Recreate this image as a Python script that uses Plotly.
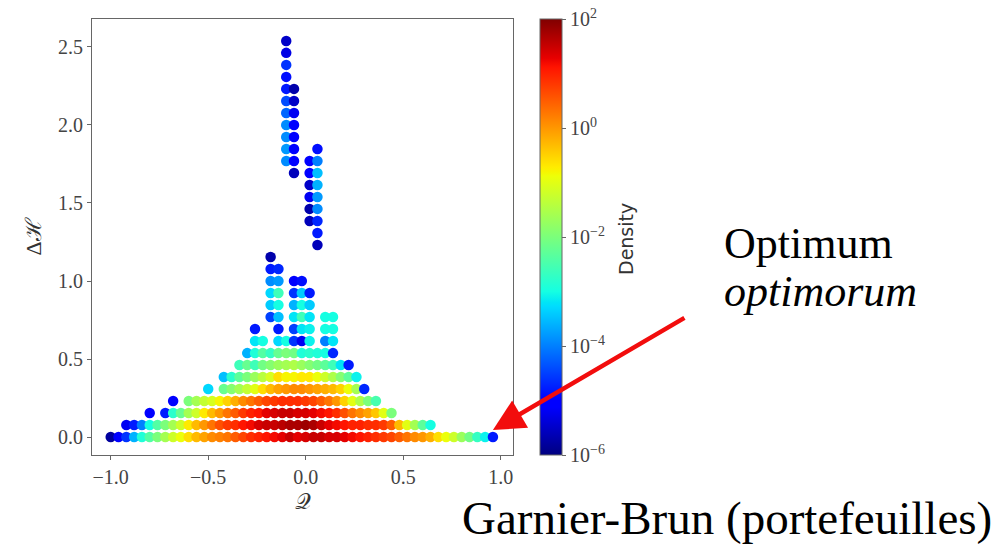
import plotly.graph_objects as go

# ---------------- data ----------------
# Delta-H level of each row of points
DH_LEVELS = [0.0, 0.077, 0.154, 0.231, 0.308, 0.385, 0.462, 0.538, 0.615, 0.692,
             0.769, 0.846, 0.923, 1.0, 1.077, 1.154, 1.231, 1.308, 1.385, 1.462,
             1.538, 1.615, 1.692, 1.769, 1.846, 1.923, 2.0, 2.077, 2.154, 2.231,
             2.308, 2.385, 2.462, 2.538]

# Q positions of the points in each row
ROW_Q = [
    [-1.0, -0.96, -0.92, -0.88, -0.84, -0.8, -0.76, -0.72, -0.68, -0.64, -0.6, -0.56, -0.52,
     -0.48, -0.44, -0.4, -0.36, -0.32, -0.28, -0.24, -0.2, -0.16, -0.12, -0.08, -0.04, 0.0,
     0.04, 0.08, 0.12, 0.16, 0.2, 0.24, 0.28, 0.32, 0.36, 0.4, 0.44, 0.48, 0.52, 0.56, 0.6,
     0.64, 0.68, 0.72, 0.76, 0.8, 0.84, 0.88, 0.92, 0.96],
    [-0.92, -0.88, -0.84, -0.8, -0.76, -0.72, -0.68, -0.64, -0.6, -0.56, -0.52, -0.48, -0.44,
     -0.4, -0.36, -0.32, -0.28, -0.24, -0.2, -0.16, -0.12, -0.08, -0.04, 0.0, 0.04, 0.08,
     0.12, 0.16, 0.2, 0.24, 0.28, 0.32, 0.36, 0.4, 0.44, 0.48, 0.52, 0.56, 0.6, 0.64],
    [-0.8, -0.72, -0.68, -0.64, -0.6, -0.56, -0.52, -0.48, -0.44, -0.4, -0.36, -0.32, -0.28,
     -0.24, -0.2, -0.16, -0.12, -0.08, -0.04, 0.0, 0.04, 0.08, 0.12, 0.16, 0.2, 0.24, 0.28,
     0.32, 0.36, 0.4, 0.44],
    [-0.68, -0.6, -0.56, -0.52, -0.48, -0.44, -0.4, -0.36, -0.32, -0.28, -0.24, -0.2, -0.16,
     -0.12, -0.08, -0.04, 0.0, 0.04, 0.08, 0.12, 0.16, 0.2, 0.24, 0.28, 0.32, 0.36],
    [-0.5, -0.42, -0.38, -0.34, -0.3, -0.26, -0.22, -0.18, -0.14, -0.1, -0.06, -0.02, 0.02,
     0.06, 0.1, 0.14, 0.18, 0.22, 0.26, 0.3],
    [-0.42, -0.38, -0.34, -0.3, -0.26, -0.22, -0.18, -0.14, -0.1, -0.06, -0.02, 0.02, 0.06,
     0.1, 0.14, 0.18, 0.22, 0.26],
    [-0.34, -0.3, -0.26, -0.22, -0.18, -0.14, -0.1, -0.06, -0.02, 0.02, 0.06, 0.1, 0.14,
     0.18, 0.22],
    [-0.3, -0.26, -0.22, -0.18, -0.14, -0.1, -0.06, -0.02, 0.02, 0.06, 0.1, 0.14],
    [-0.26, -0.22, -0.14, -0.1, -0.06, -0.02, 0.02, 0.1, 0.14],
    [-0.26, -0.14, -0.06, -0.02, 0.02, 0.1, 0.14],
    [-0.18, -0.14, -0.06, -0.02, 0.02, 0.1, 0.14],
    [-0.18, -0.14, -0.06, -0.02, 0.02],
    [-0.18, -0.14, -0.06, -0.02, 0.02],
    [-0.18, -0.14, -0.06, -0.02],
    [-0.18, -0.14],
    [-0.18],
    [0.06],
    [0.06],
    [0.02, 0.06],
    [0.02, 0.06],
    [0.02, 0.06],
    [0.02, 0.06],
    [-0.06, 0.02, 0.06],
    [-0.1, -0.06, 0.02, 0.06],
    [-0.1, -0.06, 0.06],
    [-0.1, -0.06],
    [-0.1, -0.06],
    [-0.1, -0.06],
    [-0.1, -0.06],
    [-0.1, -0.06],
    [-0.1],
    [-0.1],
    [-0.1],
    [-0.1],
]

# log10(density) of each point, same layout as ROW_Q
ROW_LOG_DENSITY = [
    [-5.8, -5.0, -4.6, -3.6, -2.9, -2.4, -2.0, -1.6, -1.2, -0.9, -0.6, -0.3, -0.1,
     0.1, 0.2, 0.3, 0.5, 0.7, 0.9, 1.0, 1.1, 1.2, 1.3, 1.5, 1.3, 1.4,
     1.5, 1.5, 1.4, 1.4, 1.3, 1.2, 1.1, 1.0, 0.9, 0.8, 0.7, 0.5, 0.3, 0.1, 0.0,
     -0.2, -0.6, -0.9, -1.2, -1.7, -2.1, -2.7, -3.1, -4.8],
    [-5.2, -4.8, -4.0, -3.0, -2.4, -2.0, -1.6, -1.2, -0.7, -0.3, 0.0, 0.3, 0.6,
     0.8, 0.9, 1.1, 1.2, 1.4, 1.5, 1.5, 1.6, 1.7, 1.7, 1.8, 1.7, 1.5,
     1.3, 1.2, 1.1, 1.0, 1.0, 0.9, 0.9, 0.8, 0.5, -0.3, -1.0, -1.6, -2.3, -3.0],
    [-5.0, -4.8, -2.8, -2.2, -1.6, -1.2, -0.7, -0.3, 0.0, 0.3, 0.5, 0.8, 1.0,
     1.1, 1.3, 1.4, 1.5, 1.5, 1.4, 1.4, 1.3, 1.2, 1.1, 0.9, 0.6, 0.3, 0.1,
     -0.1, -0.4, -1.0, -2.0],
    [-5.0, -2.0, -1.6, -1.3, -1.1, -0.8, -0.5, -0.2, 0.1, 0.3, 0.5, 0.7, 0.8,
     0.9, 0.9, 0.9, 0.8, 0.7, 0.5, 0.3, 0.0, -0.5, -1.0, -1.5, -2.0, -2.5],
    [-3.3, -2.2, -1.9, -1.6, -1.3, -1.0, -0.6, -0.3, -0.1, 0.0, 0.1, 0.1, 0.0,
     -0.1, -0.2, -0.3, -0.5, -0.9, -1.6, -4.7],
    [-3.5, -2.8, -2.3, -2.0, -1.7, -1.4, -1.1, -0.6, -0.8, -0.8, -0.7, -0.7, -0.9,
     -1.2, -1.5, -1.9, -2.3, -3.1],
    [-2.6, -2.2, -2.6, -2.1, -1.9, -1.7, -1.6, -1.5, -1.7, -1.9, -2.1, -2.3, -2.6,
     -3.2, -4.8],
    [-3.6, -2.9, -2.4, -2.7, -2.2, -2.0, -2.1, -2.9, -2.8, -2.9, -3.0, -4.7],
    [-3.2, -3.0, -3.3, -3.0, -4.6, -5.2, -3.1, -4.0, -3.2],
    [-4.8, -4.8, -4.5, -3.2, -3.1, -3.0, -3.0],
    [-4.5, -3.5, -3.2, -2.6, -3.2, -3.0, -3.0],
    [-3.4, -3.0, -3.6, -3.0, -3.4],
    [-3.3, -2.6, -4.6, -3.4, -4.8],
    [-3.9, -3.8, -5.0, -4.9],
    [-4.8, -4.7],
    [-5.7],
    [-5.6],
    [-4.8],
    [-5.6, -4.7],
    [-5.7, -3.9],
    [-5.2, -3.8],
    [-5.5, -3.6],
    [-5.6, -5.1, -3.5],
    [-3.9, -5.0, -5.0, -4.0],
    [-3.8, -5.0, -4.9],
    [-3.9, -5.0],
    [-3.9, -5.0],
    [-4.2, -5.2],
    [-4.4, -5.5],
    [-4.8, -5.7],
    [-4.9],
    [-4.6],
    [-5.3],
    [-5.5],
]

X_TICKS = [-1.0, -0.5, 0.0, 0.5, 1.0]
Y_TICKS = [0.0, 0.5, 1.0, 1.5, 2.0, 2.5]
CBAR_TICKS = [-6, -4, -2, 0, 2]
CBAR_LABELS = ["10<sup>−6</sup>", "10<sup>−4</sup>", "10<sup>−2</sup>",
               "10<sup>0</sup>", "10<sup>2</sup>"]

# ---------------- style ----------------
JET = [
    [0.0, "rgb(0,0,128)"], [0.11, "rgb(0,0,255)"], [0.125, "rgb(0,0,255)"],
    [0.34, "rgb(0,219,255)"], [0.35, "rgb(0,229,247)"], [0.375, "rgb(21,255,226)"],
    [0.5, "rgb(123,255,123)"], [0.64, "rgb(238,255,8)"], [0.65, "rgb(247,245,0)"],
    [0.66, "rgb(255,236,0)"], [0.89, "rgb(255,19,0)"], [0.91, "rgb(232,0,0)"],
    [1.0, "rgb(128,0,0)"],
]

xs, ys, cs = [], [], []
for dh, qrow, drow in zip(DH_LEVELS, ROW_Q, ROW_LOG_DENSITY):
    for q, d in zip(qrow, drow):
        xs.append(q)
        ys.append(dh)
        cs.append(d)

W, H = 995, 545
ML, MR, MT, MB = 92, 482, 19, 90
PW = W - ML - MR
PH = H - MT - MB

def px_x(p):
    return (p - ML) / PW

def px_y(p):
    return (H - MB - p) / PH

SERIF = "Liberation Serif"
TICKCOL = "#444"
LINECOL = "#666"

fig = go.Figure()
fig.add_trace(go.Scatter(
    x=xs, y=ys, mode="markers", showlegend=False, hoverinfo="skip",
    marker=dict(
        size=10.5, color=cs, colorscale=JET, cmin=-6, cmax=2,
        line=dict(width=0),
        colorbar=dict(
            x=px_x(540), xanchor="left", y=0.5, yanchor="middle",
            len=1.0, lenmode="fraction", thickness=22, thicknessmode="pixels",
            xpad=0, ypad=0, outlinewidth=1, outlinecolor=LINECOL,
            tickvals=CBAR_TICKS, ticktext=CBAR_LABELS,
            ticks="outside", ticklen=4, tickcolor=LINECOL,
            tickfont=dict(family=SERIF, size=20, color=TICKCOL),
        ),
    ),
))

axis_common = dict(
    showline=True, mirror=True, linecolor=LINECOL, linewidth=1.2,
    ticks="outside", ticklen=4, tickcolor=LINECOL, showgrid=False, zeroline=False,
    tickfont=dict(family=SERIF, size=20, color=TICKCOL),
)

fig.update_layout(
    width=W, height=H, margin=dict(l=ML, r=MR, t=MT, b=MB, autoexpand=False),
    paper_bgcolor="white", plot_bgcolor="white",
    xaxis=dict(range=[-1.096, 1.063], tickvals=X_TICKS, tickformat=".1f",
               title=dict(text="𝒬", standoff=6,
                          font=dict(family=SERIF, size=22, color="#333")),
               **axis_common),
    yaxis=dict(range=[-0.115, 2.679], tickvals=Y_TICKS, tickformat=".1f",
               title=dict(text="Δℋ", standoff=10,
                          font=dict(family=SERIF, size=22, color="#333")),
               **axis_common),
)

# colour-bar label
fig.add_annotation(
    x=px_x(626), y=px_y(239), xref="paper", yref="paper", text="Density",
    showarrow=False, textangle=-90, xanchor="center", yanchor="middle",
    font=dict(family="DejaVu Sans", size=19, color="#333"),
)

q_opt = ROW_Q[0][-1]
dh_opt = DH_LEVELS[0]

fig.add_annotation(
    x=q_opt, y=dh_opt, xref="x", yref="y", text="", showarrow=True,
    ax=193, ay=-113, arrowhead=2, arrowsize=1.4, arrowwidth=4.5,
    arrowcolor="#f20d0d", standoff=0, yshift=7,
)
fig.add_annotation(
    x=px_x(722), y=px_y(243), xref="paper", yref="paper", text="Optimum",
    showarrow=False, xanchor="left", yanchor="middle",
    font=dict(family=SERIF, size=44, color="black"),
)
fig.add_annotation(
    x=px_x(722), y=px_y(291), xref="paper", yref="paper", text="<i>optimorum</i>",
    showarrow=False, xanchor="left", yanchor="middle",
    font=dict(family=SERIF, size=44, color="black"),
)
fig.add_annotation(
    x=px_x(460), y=px_y(518), xref="paper", yref="paper",
    text="Garnier-Brun (portefeuilles)",
    showarrow=False, xanchor="left", yanchor="middle",
    font=dict(family=SERIF, size=47, color="black"),
)

fig.write_html("out.html")
